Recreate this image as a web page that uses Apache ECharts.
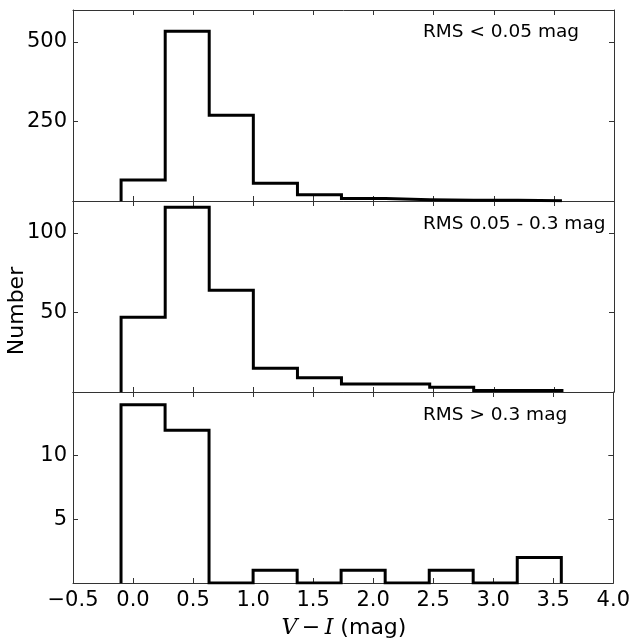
<!DOCTYPE html>
<html>
<head>
<meta charset="utf-8">
<script src="https://cdn.jsdelivr.net/npm/echarts@6/dist/echarts.min.js"></script>
<style>
  html, body { margin: 0; padding: 0; background: #fff; }
  #chart { width: 633px; height: 644px; }
</style>
</head>
<body>
<div id="chart"></div>
<script>
// bin edges of the V-I histogram (10 bins)
const binEdges = [-0.1, 0.267, 0.633, 1.0, 1.367, 1.733, 2.1, 2.467, 2.833, 3.2, 3.567]
// counts per panel
const countsLow = [66, 533, 269, 56, 20, 8, 4, 2, 2, 1]
const countsMid = [47, 116, 64, 15, 9, 5, 5, 3, 1, 1]
const countsHigh = [14, 12, 0, 1, 0, 1, 0, 1, 0, 2]
const panelLabels = ['RMS < 0.05 mag', 'RMS 0.05 - 0.3 mag', 'RMS > 0.3 mag']
const yMaxes = [600, 120, 15]
const ySteps = [250, 50, 5]
const xTicks = [-0.5, 4.0, 0.5] // min, max, step

const chart = echarts.init(document.getElementById('chart'))
const font = 'DejaVu Sans'
const axisColor = '#333'

// turn edges + counts into a step outline (matplotlib histtype='step')
function stepPoints (edges, counts) {
  let pts = [[edges[0], 0]]
  for (let i = 0; i < counts.length; i++) {
    pts.push([edges[i], counts[i]])
    pts.push([edges[i + 1], counts[i]])
  }
  pts.push([edges[edges.length - 1], 0])
  return pts
}

function fmtX (v) {
  let s = Math.abs(v).toFixed(1)
  return v < 0 ? '\u2212' + s : s
}

const panels = [countsLow, countsMid, countsHigh]
const tops = [10, 201, 392]
let grids = []
let xAxes = []
let yAxes = []
let series = []

for (let i = 0; i < 3; i++) {
  grids.push({ left: 73, right: 19, top: tops[i], height: 191 })
  let common = {
    gridIndex: i,
    type: 'value',
    min: xTicks[0],
    max: xTicks[1],
    interval: xTicks[2],
    splitLine: { show: false },
    axisLine: { show: true, onZero: false, lineStyle: { color: axisColor, width: 1 } },
    axisTick: { show: true, inside: true, length: 5, lineStyle: { color: axisColor } }
  }
  xAxes.push(Object.assign({}, common, {
    position: 'bottom',
    axisLabel: {
      show: i === 2,
      margin: 7,
      fontFamily: font,
      fontSize: 21,
      color: '#000',
      formatter: fmtX
    }
  }))
  xAxes.push(Object.assign({}, common, { position: 'top', axisLabel: { show: false } }))

  let step = ySteps[i]
  let yMax = yMaxes[i]
  let yCommon = {
    gridIndex: i,
    type: 'value',
    min: 0,
    max: yMax,
    interval: step,
    splitLine: { show: false },
    axisLine: { show: true, onZero: false, lineStyle: { color: axisColor, width: 1 } },
    axisTick: { show: true, inside: true, length: 5, lineStyle: { color: axisColor } }
  }
  yAxes.push(Object.assign({}, yCommon, {
    position: 'left',
    axisLabel: {
      margin: 6,
      fontFamily: font,
      fontSize: 21,
      color: '#000',
      showMinLabel: false,
      showMaxLabel: false,
      formatter: function (v) {
        if (v === 0 || v % step !== 0 || v >= yMax) return ''
        return String(v)
      }
    }
  }))
  yAxes.push(Object.assign({}, yCommon, { position: 'right', axisLabel: { show: false } }))

  series.push({
    type: 'line',
    xAxisIndex: 2 * i,
    yAxisIndex: 2 * i,
    data: stepPoints(binEdges, panels[i]),
    symbol: 'none',
    silent: true,
    lineStyle: { color: '#000', width: 3, join: 'miter' },
    z: 5
  })
}

const labelY = [32, 224, 415]
let graphics = panelLabels.map(function (t, i) {
  return {
    type: 'text',
    x: 423,
    y: labelY[i],
    style: {
      text: t,
      font: '18.5px "DejaVu Sans"',
      fill: '#000',
      textVerticalAlign: 'middle'
    }
  }
})
graphics.push({
  type: 'text',
  x: 17,
  y: 311,
  rotation: Math.PI / 2,
  style: {
    text: 'Number',
    font: '22px "DejaVu Sans"',
    fill: '#000',
    textAlign: 'center',
    textVerticalAlign: 'middle'
  }
})
graphics.push({
  type: 'text',
  x: 344,
  y: 628,
  style: {
    text: '{i|V}{m|\u2009\u2212\u2009}{i|I}{s| (mag)}',
    textAlign: 'center',
    textVerticalAlign: 'middle',
    rich: {
      i: { fontFamily: 'DejaVu Serif', fontStyle: 'italic', fontSize: 22, fill: '#000' },
      m: { fontFamily: 'DejaVu Sans', fontSize: 22, fill: '#000' },
      s: { fontFamily: 'DejaVu Sans', fontSize: 22, fill: '#000' }
    }
  }
})

let option = {
  animation: false,
  backgroundColor: '#fff',
  grid: grids,
  xAxis: xAxes,
  yAxis: yAxes,
  series: series,
  graphic: graphics
}
chart.setOption(option)
</script>
</body>
</html>
